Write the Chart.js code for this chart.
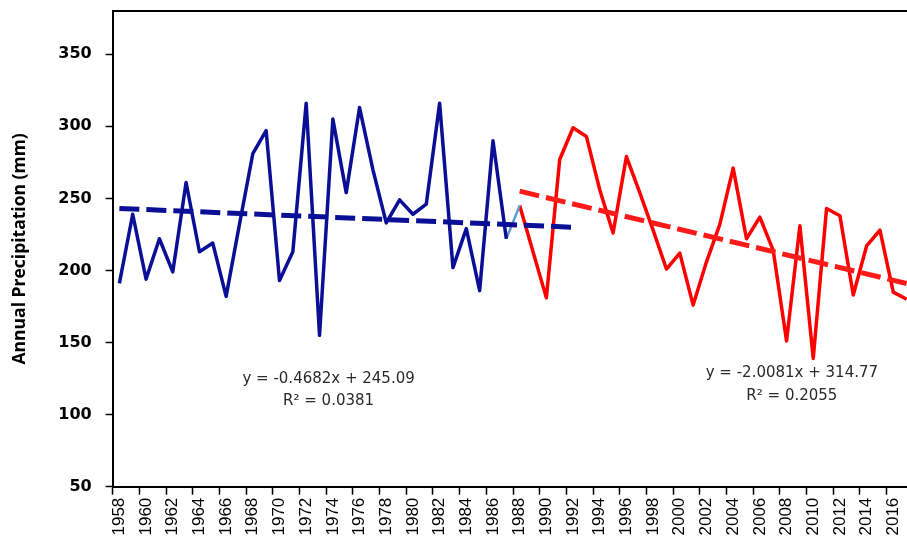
<!DOCTYPE html>
<html lang="en">
<head>
  <meta charset="UTF-8">
  <title>Annual Precipitation</title>
  <script src="https://cdn.jsdelivr.net/npm/chart.js"></script>
  <style>
    body {
      margin: 0;
      background: #fff;
      overflow: hidden;
    }
    canvas {
      display: block;
    }
  </style>
</head>
<body>

<canvas id="rainChart" width="916" height="542"></canvas>

<script>
  // categories: one per year
  const years = [
    '1958', '1959', '1960', '1961', '1962', '1963', '1964', '1965', '1966', '1967',
    '1968', '1969', '1970', '1971', '1972', '1973', '1974', '1975', '1976', '1977',
    '1978', '1979', '1980', '1981', '1982', '1983', '1984', '1985', '1986', '1987',
    '1988', '1989', '1990', '1991', '1992', '1993', '1994', '1995', '1996', '1997',
    '1998', '1999', '2000', '2001', '2002', '2003', '2004', '2005', '2006', '2007',
    '2008', '2009', '2010', '2011', '2012', '2013', '2014', '2015', '2016', '2017'
  ];

  // 1958-1987 (blue)
  const earlyRain = [
    191, 239, 194, 222, 199, 261, 213, 219, 182, 232,
    281, 297, 193, 213, 316, 155, 305, 254, 313, 270,
    233, 249, 239, 246, 316, 202, 229, 186, 290, 222
  ];

  // 1988-2017 (red)
  const lateRain = [
    245, 213, 181, 277, 299, 293, 256, 226, 279, 254,
    228, 201, 212, 176, 206, 232, 271, 222, 237, 214,
    151, 231, 139, 243, 238, 183, 217, 228, 185, 180
  ];

  // trend line end points
  const earlyTrend = { from: '1958', to: '1992', start: 243, end: 230 };
  const lateTrend = { from: '1988', to: '2017', start: 255, end: 191 };

  const yTicks = [50, 100, 150, 200, 250, 300, 350];

  const earlyLabel = ['y = -0.4682x + 245.09', 'R² = 0.0381'];
  const lateLabel = ['y = -2.0081x + 314.77', 'R² = 0.2055'];

  // build the series from the arrays
  const nEarly = earlyRain.length;
  const blueData = years.map((y, i) => i < nEarly ? earlyRain[i] : null);
  const redData = years.map((y, i) => i >= nEarly ? lateRain[i - nEarly] : null);
  const joinData = years.map((y, i) => i === nEarly - 1 ? earlyRain[i] : (i === nEarly ? lateRain[0] : null));

  function trendData(t) {
    return years.map(y => y === t.from ? t.start : (y === t.to ? t.end : null));
  }

  const framePlugin = {
    id: 'frame',
    afterDraw(chart) {
      const { ctx, chartArea: a, scales } = chart;
      ctx.save();
      ctx.strokeStyle = '#000';
      ctx.lineWidth = 2;
      ctx.beginPath();
      ctx.moveTo(a.left, a.top);
      ctx.lineTo(a.right, a.top);
      ctx.lineTo(a.right, a.bottom);
      ctx.stroke();

      ctx.fillStyle = '#2a2a2a';
      ctx.font = '15px "DejaVu Sans"';
      ctx.textAlign = 'center';
      ctx.textBaseline = 'middle';
      const put = (lines, xi, v1, v2) => {
        const x = scales.x.getPixelForValue(xi);
        ctx.fillText(lines[0], x, scales.y.getPixelForValue(v1));
        ctx.fillText(lines[1], x, scales.y.getPixelForValue(v2));
      };
      put(earlyLabel, 15.68, 124.5, 109.3);
      put(lateLabel, 50.4, 128.7, 112.8);
      ctx.restore();
    }
  };

  const ctx = document.getElementById('rainChart').getContext('2d');
  new Chart(ctx, {
    type: 'line',
    data: {
      labels: years,
      datasets: [
        {
          data: trendData(earlyTrend),
          borderColor: '#0a0f96',
          borderWidth: 5,
          borderDash: [20, 7],
          spanGaps: true,
          pointRadius: 0
        },
        {
          data: trendData(lateTrend),
          borderColor: '#ff1a1a',
          borderWidth: 5,
          borderDash: [20, 7],
          spanGaps: true,
          pointRadius: 0
        },
        {
          data: blueData,
          borderColor: '#0a0f96',
          borderWidth: 3.5,
          borderJoinStyle: 'round',
          pointRadius: 0
        },
        {
          data: joinData,
          borderColor: '#5b9bd5',
          borderWidth: 2.5,
          pointRadius: 0
        },
        {
          data: redData,
          borderColor: '#ff0000',
          borderWidth: 3.5,
          borderJoinStyle: 'round',
          pointRadius: 0
        }
      ]
    },
    options: {
      responsive: false,
      animation: false,
      layout: { padding: { top: 11, right: 2.7, left: 0, bottom: 0 } },
      plugins: {
        legend: { display: false },
        tooltip: { enabled: false }
      },
      scales: {
        x: {
          offset: true,
          afterFit: axis => {
            axis.height = 55.3;
            axis.paddingLeft = 0;
            axis.paddingRight = 0;
          },
          border: { color: '#000', width: 2 },
          grid: {
            offset: true,
            drawOnChartArea: false,
            tickLength: 8,
            tickWidth: 1.5,
            tickColor: c => c.index % 2 === 0 ? '#000' : 'rgba(0,0,0,0)'
          },
          ticks: {
            autoSkip: false,
            minRotation: 90,
            maxRotation: 90,
            padding: 3,
            color: '#000',
            font: { family: '"Liberation Sans"', size: 17 },
            callback: (v, i) => i % 2 === 0 ? years[i] : ''
          }
        },
        y: {
          min: 50,
          max: 380,
          afterFit: axis => {
            axis.width = 112.7;
            axis.paddingTop = 0;
            axis.paddingBottom = 0;
          },
          afterBuildTicks: axis => {
            axis.ticks = yTicks.map(v => ({ value: v }));
          },
          border: { color: '#000', width: 2 },
          grid: {
            drawOnChartArea: false,
            tickLength: 7,
            tickWidth: 1.5,
            tickColor: '#000'
          },
          ticks: {
            padding: 14,
            color: '#000',
            font: { family: '"DejaVu Sans"', size: 16, weight: 'bold' }
          },
          title: {
            display: true,
            text: 'Annual Precipitation (mm)',
            color: '#000',
            padding: { top: 10, bottom: 0 },
            font: { family: '"Open Sans"', size: 17.5, weight: 'bold' }
          }
        }
      }
    },
    plugins: [framePlugin]
  });
</script>
</body>
</html>
